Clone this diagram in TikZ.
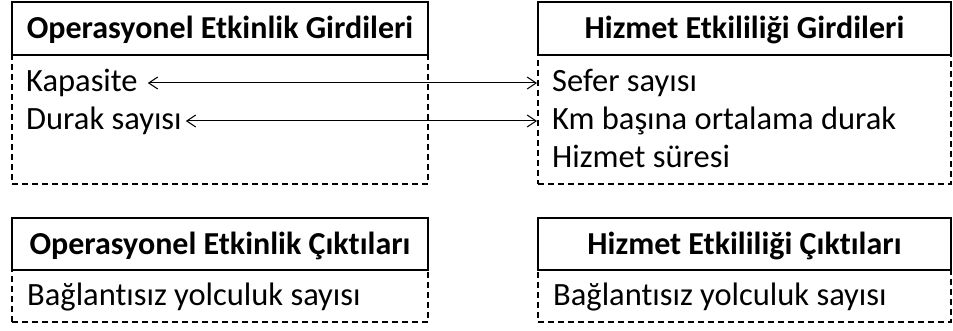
\documentclass[tikz,border=0pt]{standalone}
\usepackage{fontspec}
\setmainfont[Ligatures=NoCommon]{Carlito}
\usetikzlibrary{arrows.meta}
\begin{document}
\begin{tikzpicture}[x=1pt,y=-1pt,
  txt/.style={font=\fontsize{32.5}{38}\selectfont},
  head/.style={draw, fill=white, line width=1.3pt, minimum height=53pt,
    inner sep=0pt, text height=21pt, text depth=0pt,
    font=\fontsize{32}{38}\selectfont\bfseries},
  body/.style={draw, line width=1.2pt, dash pattern=on 6pt off 4pt, inner sep=0pt},
  item/.style={txt, anchor=base west, inner sep=0pt},
  link/.style={line width=1pt,
    {Straight Barb[length=9pt,width=12pt]}-{Straight Barb[length=9pt,width=12pt]}}]
\useasboundingbox (0,0) rectangle (953,331);

% input groups: dashed bodies first, headers on top
\node[body, minimum width=416pt, minimum height=129pt] (opinbody) at (220,119.5) {};
\node[body, minimum width=413pt, minimum height=129pt] (svinbody) at (744.5,119.5) {};
\node[head, minimum width=416pt] (opin) at (220,28.5) {Operasyonel Etkinlik Girdileri};
\node[head, minimum width=413pt] (svin) at (744.5,28.5) {Hizmet Etkililiği Girdileri};

% output groups
\node[body, minimum width=416pt, minimum height=52pt] (opoutbody) at (220,296) {};
\node[body, minimum width=413pt, minimum height=52pt] (svoutbody) at (744.5,296) {};
\node[head, minimum width=416pt, minimum height=52pt] (opout) at (220,244) {Operasyonel Etkinlik Çıktıları};
\node[head, minimum width=413pt, minimum height=52pt] (svout) at (744.5,244) {Hizmet Etkililiği Çıktıları};

% items
\node[item] (kap) at (26,92) {Kapasite};
\node[item] (durak) at (26,130) {Durak sayısı};
\node[item] (sefer) at (552,92) {Sefer sayısı};
\node[item] (km) at (552,130) {Km başına ortalama durak};
\node[item] (sure) at (552,168) {Hizmet süresi};
\node[item] (bagl) at (27,305) {Bağlantısız yolculuk sayısı};
\node[item] (bagr) at (553,305) {Bağlantısız yolculuk sayısı};

% links between related inputs
\draw[link] ([shift={(10,-9)}]kap.base east) -- ([shift={(-15,-9)}]sefer.base west);
\draw[link] ([shift={(4,-9)}]durak.base east) -- ([shift={(-15,-9)}]km.base west);
\end{tikzpicture}
\end{document}
